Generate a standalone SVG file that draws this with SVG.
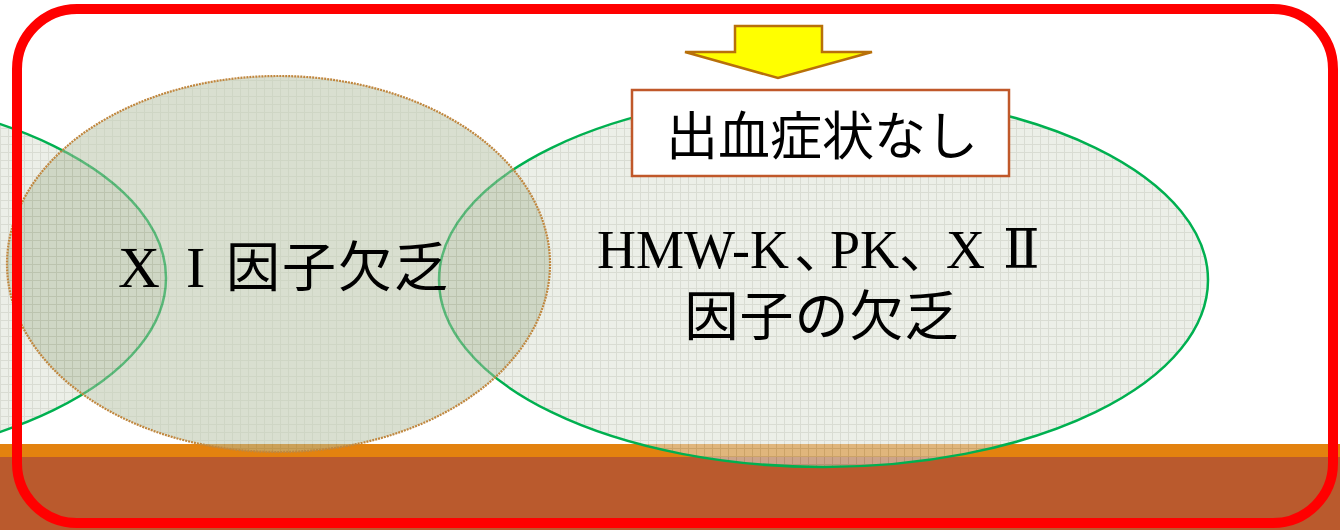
<svg xmlns="http://www.w3.org/2000/svg" width="1340" height="530" viewBox="0 0 1340 530">
  <defs>
    <pattern id="grid" width="8" height="8" patternUnits="userSpaceOnUse">
      <rect width="8" height="8" fill="#DDE1D5"/>
      <path d="M0 0.5H8M0.5 0V8" stroke="#B9BFAF" stroke-width="1" fill="none"/>
    </pattern>
    <pattern id="grid2" width="8" height="8" patternUnits="userSpaceOnUse">
      <rect width="8" height="8" fill="#B3C0A2"/>
      <path d="M0 0.5H8M0.5 0V8" stroke="#9FAD8C" stroke-width="1" fill="none"/>
    </pattern>
  </defs>
  <style>
    .green { fill: url(#grid); fill-opacity: 0.55; stroke: #00B050; stroke-width: 2.5; }
    .tan { fill: url(#grid2); fill-opacity: 0.5; stroke: #C0873F; stroke-width: 2.2; stroke-dasharray: 2 1; }
    .serif { font-family: "Liberation Serif", "DejaVu Serif", "Noto Sans CJK JP", serif; fill: #000; }
    .jp { font-family: "Noto Sans CJK JP", "Noto Sans CJK SC", sans-serif; fill: #000; }
  </style>
  <rect width="1340" height="530" fill="#FFFFFF"/>
  <g id="band">
    <rect x="0" y="444" width="1340" height="14" fill="#E3820F"/>
    <rect x="0" y="457" width="1340" height="73" fill="#BA5A2D"/>
  </g>
  <g id="node-left-ellipse">
    <ellipse class="green" cx="-218" cy="278" rx="384" ry="187"/>
  </g>
  <g id="node-right-ellipse">
    <ellipse class="green" cx="823.5" cy="280" rx="384.5" ry="187"/>
    <text class="serif" font-size="54" y="268"><tspan x="597">HMW-K</tspan><tspan class="jp" x="794">、</tspan><tspan x="830">PK</tspan><tspan class="jp" x="899">、</tspan><tspan x="946">X</tspan><tspan x="1003">Ⅱ</tspan></text>
    <text class="jp" font-size="54" x="822" y="336" text-anchor="middle" letter-spacing="1">因子の欠乏</text>
  </g>
  <g id="node-xi">
    <ellipse class="tan" cx="278.5" cy="264" rx="271.5" ry="188"/>
    <text class="serif" font-size="58" y="287"><tspan x="118">X</tspan><tspan x="186">I</tspan></text>
    <text class="jp" font-size="54" x="226" y="287" letter-spacing="2">因子欠乏</text>
  </g>
  <g id="frame">
    <rect x="17" y="9" width="1316" height="514" rx="60" ry="60" fill="none" stroke="#FF0000" stroke-width="10"/>
  </g>
  <g id="connectors">
    <path d="M735 26H822V52H872L778 78L685 52H735Z" fill="#FFFF00" stroke="#B8700A" stroke-width="2.5" stroke-linejoin="miter"/>
  </g>
  <g id="node-label">
    <rect x="632" y="90" width="377" height="86" fill="#FFFFFF" stroke="#C0582A" stroke-width="2.5"/>
    <text class="jp" font-size="52" x="822" y="155" text-anchor="middle">出血症状なし</text>
  </g>
</svg>
